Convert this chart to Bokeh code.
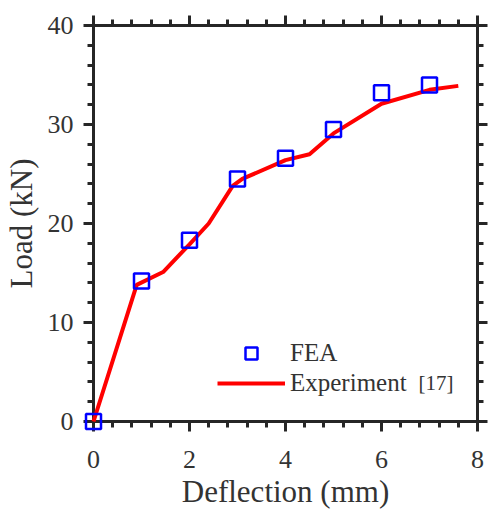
from bokeh.plotting import figure
from bokeh.models import (Range1d, LinearAxis, SingleIntervalTicker, Legend, LegendItem,
                          Label, CustomJSTickFormatter)
from bokeh.core.properties import value
from bokeh.embed import file_html
from bokeh.resources import INLINE

# FEA results
fea_x = [0, 1, 2, 3, 4, 5, 6, 7]
fea_y = [0, 14.2, 18.3, 24.5, 26.6, 29.5, 33.2, 34.0]

# Experiment [17]
exp_x = [0, 0.9, 1.45, 2.0, 2.4, 2.9, 3.1, 4.0, 4.5, 5.0, 6.0, 7.0, 7.6]
exp_y = [0, 13.8, 15.1, 17.9, 20.0, 23.8, 24.5, 26.4, 27.0, 29.1, 32.1, 33.5, 33.9]

x_label = "Deflection (mm)"
y_label = "Load (kN)"

FONT = "Liberation Serif"
AX = "#262626"
TXT = "#333333"

p = figure(width=488, height=512, output_backend="svg", toolbar_location=None,
           x_range=Range1d(0, 8), y_range=Range1d(0, 40),
           min_border_left=93, min_border_right=11, min_border_top=25, min_border_bottom=91,
           x_axis_location=None, y_axis_location=None)
p.xgrid.visible = False
p.ygrid.visible = False
p.outline_line_color = None
p.background_fill_color = "white"
p.border_fill_color = "white"


def style(ax, labels=True):
    ax.axis_line_width = 3
    ax.axis_line_color = AX
    ax.major_tick_line_width = 3
    ax.minor_tick_line_width = 3
    ax.major_tick_line_color = AX
    ax.minor_tick_line_color = AX
    ax.major_tick_out = 10
    ax.major_tick_in = 0
    ax.minor_tick_out = 6
    ax.minor_tick_in = 0
    if labels:
        ax.major_label_text_font = FONT
        ax.major_label_text_font_size = "26px"
        ax.major_label_text_color = TXT
        ax.axis_label_text_font = FONT
        ax.axis_label_text_font_size = "31px"
        ax.axis_label_text_font_style = "normal"
        ax.axis_label_text_color = TXT
    else:
        ax.formatter = CustomJSTickFormatter(code="return ''")
        ax.major_label_text_font_size = "0px"
        ax.major_label_standoff = 0


xt = lambda: SingleIntervalTicker(interval=2, num_minor_ticks=5)
yt = lambda: SingleIntervalTicker(interval=10, num_minor_ticks=5)

bx = LinearAxis(ticker=xt(), major_label_standoff=19)
style(bx)
p.add_layout(bx, "below")
ly = LinearAxis(ticker=yt(), axis_label=y_label, major_label_standoff=10, axis_label_standoff=6)
style(ly)
p.add_layout(ly, "left")
tx = LinearAxis(ticker=xt())
style(tx, labels=False)
p.add_layout(tx, "above")
ry = LinearAxis(ticker=yt())
style(ry, labels=False)
p.add_layout(ry, "right")

# x-axis title, drawn as text below the tick labels
p.text(x=[4.0], y=[-7.12], text=[x_label], text_font=value(FONT), text_font_size="31px",
       text_color=TXT, text_align="center", text_baseline="alphabetic", level="overlay")

r_line = p.line(exp_x, exp_y, line_color="#ff0000", line_width=4, level="overlay")
r_fea = p.scatter(fea_x, fea_y, marker="square", size=15, fill_color=None,
                  line_color="#0000ff", line_width=2.5, level="overlay")

legend = Legend(items=[LegendItem(label="FEA", renderers=[r_fea]),
                       LegendItem(label="Experiment", renderers=[r_line])],
                location=(124, 23), glyph_width=68, glyph_height=30, label_height=30,
                spacing=0, padding=0, margin=0, label_standoff=5,
                border_line_color=None, background_fill_alpha=0,
                label_text_font=FONT, label_text_font_size="25px", label_text_color=TXT)
p.add_layout(legend, "center")

p.add_layout(Label(x=6.77, y=3.84, text="[17]", text_font=FONT, text_font_size="21px",
                   text_color=TXT, text_baseline="middle"))

open("out.html", "w").write(file_html(p, INLINE))
